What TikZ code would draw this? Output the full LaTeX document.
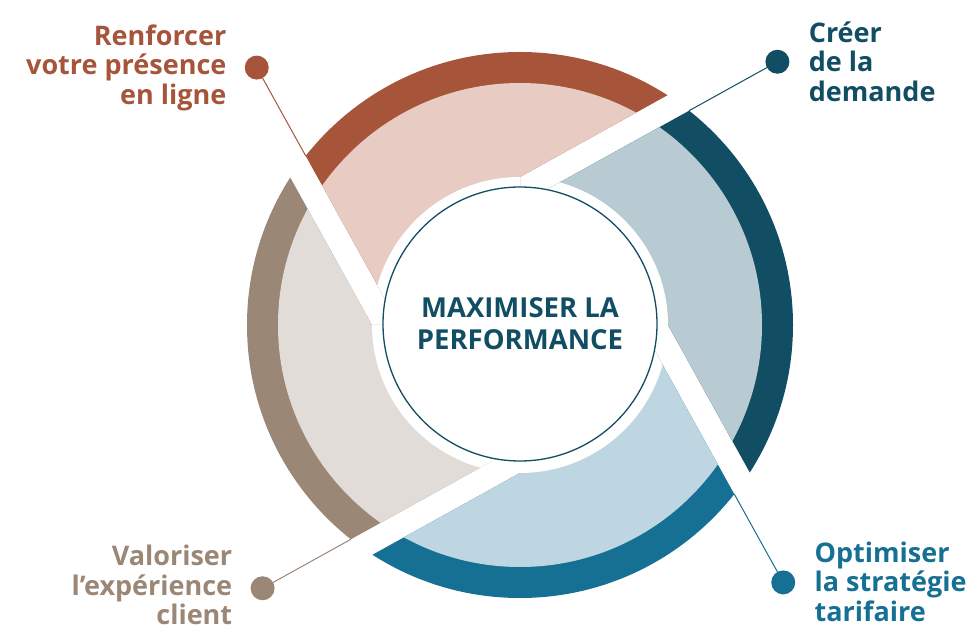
\documentclass[tikz,border=0pt]{standalone}
\usepackage{fontspec}
\setmainfont{Open Sans}
\usetikzlibrary{positioning,calc}

\definecolor{browndark}{HTML}{A6553A}
\definecolor{pinklight}{HTML}{E8CBC3}
\definecolor{tealdark}{HTML}{114E64}
\definecolor{teallight}{HTML}{B8CBD3}
\definecolor{bluedark}{HTML}{167094}
\definecolor{bluelight}{HTML}{BDD6E1}
\definecolor{taupedark}{HTML}{9A8776}
\definecolor{taupelight}{HTML}{E2DCD8}

\begin{document}
\begin{tikzpicture}[x=1pt, y=1pt]
	\def\rhalo{148}
	\def\rfill{242}
	\def\rring{273}
	\def\gap{24}
	\tikzstyle{pastille}=[circle, inner sep=0pt, minimum size=24pt]
	\tikzstyle{etiquette}=[font=\bfseries\fontsize{27}{29.5}\selectfont, inner sep=0pt]
	\useasboundingbox (-520,-303) rectangle (456,325);
	% quatre secteurs en moulinet
	\foreach \rot/\fonce/\clair/\nom in {0/tealdark/teallight/creer, -90/bluedark/bluelight/optim, 180/taupedark/taupelight/valor, 90/browndark/pinklight/renfo}{
		\begin{scope}[rotate=\rot]
			\coordinate (\nom-a) at (0:\rhalo);
			\coordinate (\nom-b) at ($(90:\rhalo)+(-61:\gap)$);
			\begin{scope}
				\clip (0,0) -- (\nom-a) -- ++(-61:450) -- (5:700) -- ($(\nom-b)+(29:450)$) -- (\nom-b) -- cycle;
				\fill[\fonce] (0,0) circle (\rring);
				\fill[\clair] (0,0) circle (\rfill);
				\fill[white] (0,0) circle (\rhalo);
			\end{scope}
			\coordinate (\nom-coin) at ($(\nom-b)+(29:180)$);
			\node[pastille, fill=\fonce] (\nom) at ($(\nom-b)+(29:281)$) {};
			\draw[\fonce, line width=1pt] (\nom-coin) -- (\nom);
		\end{scope}
	}
	\node[circle, draw=tealdark, line width=1.3pt, fill=white, minimum size=274pt, inner sep=0pt, align=center, text=tealdark, font=\bfseries\fontsize{27.5}{32}\selectfont] (centre) at (0,1) {MAXIMISER LA\\PERFORMANCE};
	\node[etiquette, text=browndark, align=right, left=18pt of renfo] (renfo-txt) {Renforcer\\votre présence\\en ligne};
	\node[etiquette, text=tealdark, align=left, right=19pt of creer] (creer-txt) {Créer\\de la\\demande};
	\node[etiquette, text=bluedark, align=left, right=19pt of optim, yshift=1pt] (optim-txt) {Optimiser\\la stratégie\\tarifaire};
	\node[etiquette, text=taupedark, align=right, left=18pt of valor, yshift=3pt] (valor-txt) {Valoriser\\l’expérience\\client};
\end{tikzpicture}
\end{document}
